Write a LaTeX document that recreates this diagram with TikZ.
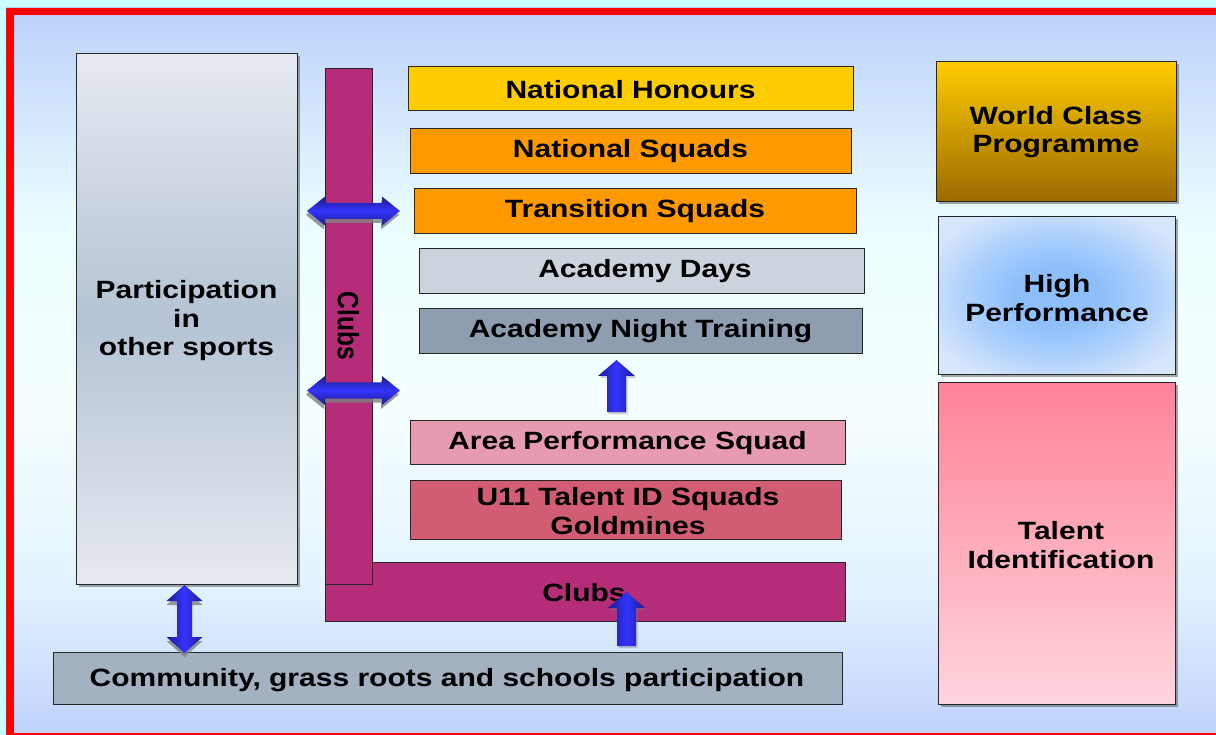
\documentclass[tikz,border=0pt]{standalone}
\usepackage{fontspec}
\usepackage{graphicx}
\setmainfont{Liberation Sans}[FakeStretch=1.2]
\newfontfamily\plainsans{Liberation Sans}
\usetikzlibrary{calc,shadows}

\definecolor{bgout}{HTML}{CCFFFF}
\definecolor{bgA}{HTML}{BCD1FA}
\definecolor{bgB}{HTML}{EBFEFF}
\definecolor{bgC}{HTML}{F6FFFF}
\definecolor{bgD}{HTML}{E2F2FE}
\definecolor{bgE}{HTML}{BFD3FC}
\definecolor{framec}{HTML}{FF0000}
\definecolor{clubc}{HTML}{B52C78}
\definecolor{honc}{HTML}{FFCC00}
\definecolor{sqc}{HTML}{FF9900}
\definecolor{adc}{HTML}{CBD3DD}
\definecolor{antc}{HTML}{8F9DB1}
\definecolor{apsc}{HTML}{E69BB1}
\definecolor{u11c}{HTML}{D15C74}
\definecolor{commc}{HTML}{A3B1C1}
\definecolor{partA}{HTML}{E6EAF0}
\definecolor{partB}{HTML}{B5C3D4}
\definecolor{wcA}{HTML}{FFCC00}
\definecolor{wcB}{HTML}{9C6A00}
\definecolor{hpA}{HTML}{8DBFFC}
\definecolor{hpM}{HTML}{A8CEFC}
\definecolor{hpB}{HTML}{D8E6FC}
\definecolor{tiA}{HTML}{FF8299}
\definecolor{tiB}{HTML}{FFD6DE}
\definecolor{arD}{HTML}{1C1C8E}
\definecolor{arL}{HTML}{3434FF}
\definecolor{shd}{HTML}{808080}

\pgfdeclareverticalshading{bgshade}{100bp}{color(0bp)=(bgE); color(25bp)=(bgE); color(35bp)=(bgD); color(47.5bp)=(bgC); color(60bp)=(bgB); color(75bp)=(bgA); color(100bp)=(bgA)}
\pgfdeclareradialshading{hpshade}{\pgfpoint{0bp}{0bp}}{color(0bp)=(hpA); color(9bp)=(hpA); color(18bp)=(hpM); color(30bp)=(hpB); color(50bp)=(hpB)}

% horizontal double arrow between two named tips
\newcommand\hdpath[2]{let \p1=(#1), \p2=(#2) in
 (\x1,\y1) -- (\x1+18pt,\y1+14.5pt) -- (\x1+18pt,\y1+8pt) -- (\x2-18pt,\y1+8pt) -- (\x2-18pt,\y1+14.5pt) -- (\x2,\y1)
 -- (\x2-18pt,\y1-14.5pt) -- (\x2-18pt,\y1-8pt) -- (\x1+18pt,\y1-8pt) -- (\x1+18pt,\y1-14.5pt) -- cycle}
% vertical double arrow between two named tips (top, bottom)
\newcommand\vdpath[2]{let \p1=(#1), \p2=(#2) in
 (\x1,\y1) -- (\x1+18pt,\y1-16pt) -- (\x1+7.5pt,\y1-16pt) -- (\x1+7.5pt,\y2+16pt) -- (\x1+18pt,\y2+16pt) -- (\x1,\y2)
 -- (\x1-18pt,\y2+16pt) -- (\x1-7.5pt,\y2+16pt) -- (\x1-7.5pt,\y1-16pt) -- (\x1-18pt,\y1-16pt) -- cycle}
% single up arrow (tip, base)
\newcommand\upath[2]{let \p1=(#1), \p2=(#2) in
 (\x1,\y1) -- (\x1+18.5pt,\y1-16pt) -- (\x1+9.5pt,\y1-16pt) -- (\x1+9.5pt,\y2) -- (\x1-9.5pt,\y2) -- (\x1-9.5pt,\y1-16pt) -- (\x1-18.5pt,\y1-16pt) -- cycle}

\tikzset{
 x=1pt, y=-1pt,
 box/.style={draw=black!85, line width=1pt, inner sep=0pt, anchor=north west, align=center,
   font=\bfseries\fontsize{25}{28.5}\selectfont},
 lbl/.style={inner sep=0pt, align=center, font=\bfseries\fontsize{25}{28.5}\selectfont},
 bshadow/.style={drop shadow={shadow xshift=2.5pt, shadow yshift=-2.5pt, opacity=0.45, fill=black!75}},
 hshade/.style={top color=arD, bottom color=arD, middle color=arL},
 vshade/.style={left color=arD, right color=arD, middle color=arL},
 arshadow/.style={fill=shd, opacity=0.8},
}

\begin{document}
\begin{tikzpicture}
\useasboundingbox (0,0) rectangle (1216,735);
% background and frame
\fill[bgout] (0,0) rectangle (1216,735);
\shade[shading=bgshade] (6,8) rectangle (1216,735);
\fill[framec] (6,8) rectangle (1216,15);
\fill[framec] (6,8) rectangle (14,735);
\fill[framec] (6,733) rectangle (1216,735);

% left column
\node[box, bshadow, top color=partA, bottom color=partA, middle color=partB,
      minimum width=221pt, minimum height=531pt] (part) at (76,53) {};
\node[lbl] (partt) at (186.5,321) {Participation\\in\\other sports};

% clubs bars
\node[box, fill=clubc, minimum width=520pt, minimum height=59pt] (clubsh) at (325,562) {};
\node[lbl] (clubsht) at (584,593) {Clubs};
\node[box, fill=clubc, minimum width=47pt, minimum height=516pt] (clubsv) at (325,68) {};
\node[inner sep=0pt, rotate=-90] (clubsvt) at (348.5,326) {\plainsans\bfseries\fontsize{24.5}{28}\selectfont\scalebox{1}[1.2]{Clubs}};

% middle column
\node[box, fill=honc, minimum width=445pt, minimum height=44pt] (hon) at (408,66) {};
\node[lbl] (hont) at (630.5,89.5) {National Honours};
\node[box, fill=sqc, minimum width=441pt, minimum height=45pt] (nsq) at (410,128) {};
\node[lbl] (nsqt) at (630.5,151) {National Squads};
\node[box, fill=sqc, minimum width=442pt, minimum height=45pt] (tsq) at (414,188) {};
\node[lbl] (tsqt) at (635,211) {Transition Squads};
\node[box, fill=adc, minimum width=445pt, minimum height=45pt] (ad) at (419,248) {};
\node[lbl] (adt) at (645,271) {Academy Days};
\node[box, fill=antc, minimum width=443pt, minimum height=45pt] (ant) at (419,308) {};
\node[lbl] (antt) at (640.5,331) {Academy Night Training};
\node[box, fill=apsc, minimum width=435pt, minimum height=44pt] (aps) at (410,420) {};
\node[lbl] (apst) at (627.5,443) {Area Performance Squad};
\node[box, fill=u11c, minimum width=431pt, minimum height=59pt] (u11) at (410,480) {};
\node[lbl] (u11t) at (628,511) {U11 Talent ID Squads\\Goldmines};

% bottom
\node[box, fill=commc, minimum width=789pt, minimum height=52pt] (comm) at (53,652) {};
\node[lbl] (commt) at (447,680.5) {Community, grass roots and schools participation};

% right column
\node[box, bshadow, top color=wcA, bottom color=wcB, minimum width=240pt, minimum height=140pt] (wc) at (936,61) {};
\node[lbl] (wct) at (1056,132) {World Class\\Programme};
\node[box, bshadow, shading=hpshade, minimum width=237pt, minimum height=158pt] (hp) at (938,216) {};
\node[lbl] (hpt) at (1057,298) {High\\Performance};
\node[box, bshadow, top color=tiA, bottom color=tiB, minimum width=237pt, minimum height=322pt] (ti) at (938,382) {};
\node[lbl] (tit) at (1061,545) {Talent\\Identification};

% arrow end points
\coordinate (h1l) at (307,211);
\coordinate (h1r) at (400,211);
\coordinate (h2l) at (307,390.5);
\coordinate (h2r) at (400,390.5);
\coordinate (vt) at (184.5,585);
\coordinate (vb) at (184.5,653);
\coordinate (u1t) at (616.5,360);
\coordinate (u1b) at (616.5,412);
\coordinate (u2t) at (626.5,592);
\coordinate (u2b) at (626.5,646);

% arrows
\fill[arshadow, transform canvas={shift={(-1pt,-4pt)}}] \hdpath{h1l}{h1r};
\shade[hshade] \hdpath{h1l}{h1r};
\fill[arshadow, transform canvas={shift={(-1pt,-4pt)}}] \hdpath{h2l}{h2r};
\shade[hshade] \hdpath{h2l}{h2r};
\fill[arshadow, transform canvas={shift={(0pt,-4pt)}}] \vdpath{vt}{vb};
\shade[vshade] \vdpath{vt}{vb};
\fill[arshadow, opacity=0.4, transform canvas={shift={(1.5pt,-2pt)}}] \upath{u1t}{u1b};
\shade[vshade] \upath{u1t}{u1b};
\fill[arshadow, opacity=0.4, transform canvas={shift={(1.5pt,-2pt)}}] \upath{u2t}{u2b};
\shade[vshade] \upath{u2t}{u2b};
\end{tikzpicture}
\end{document}
